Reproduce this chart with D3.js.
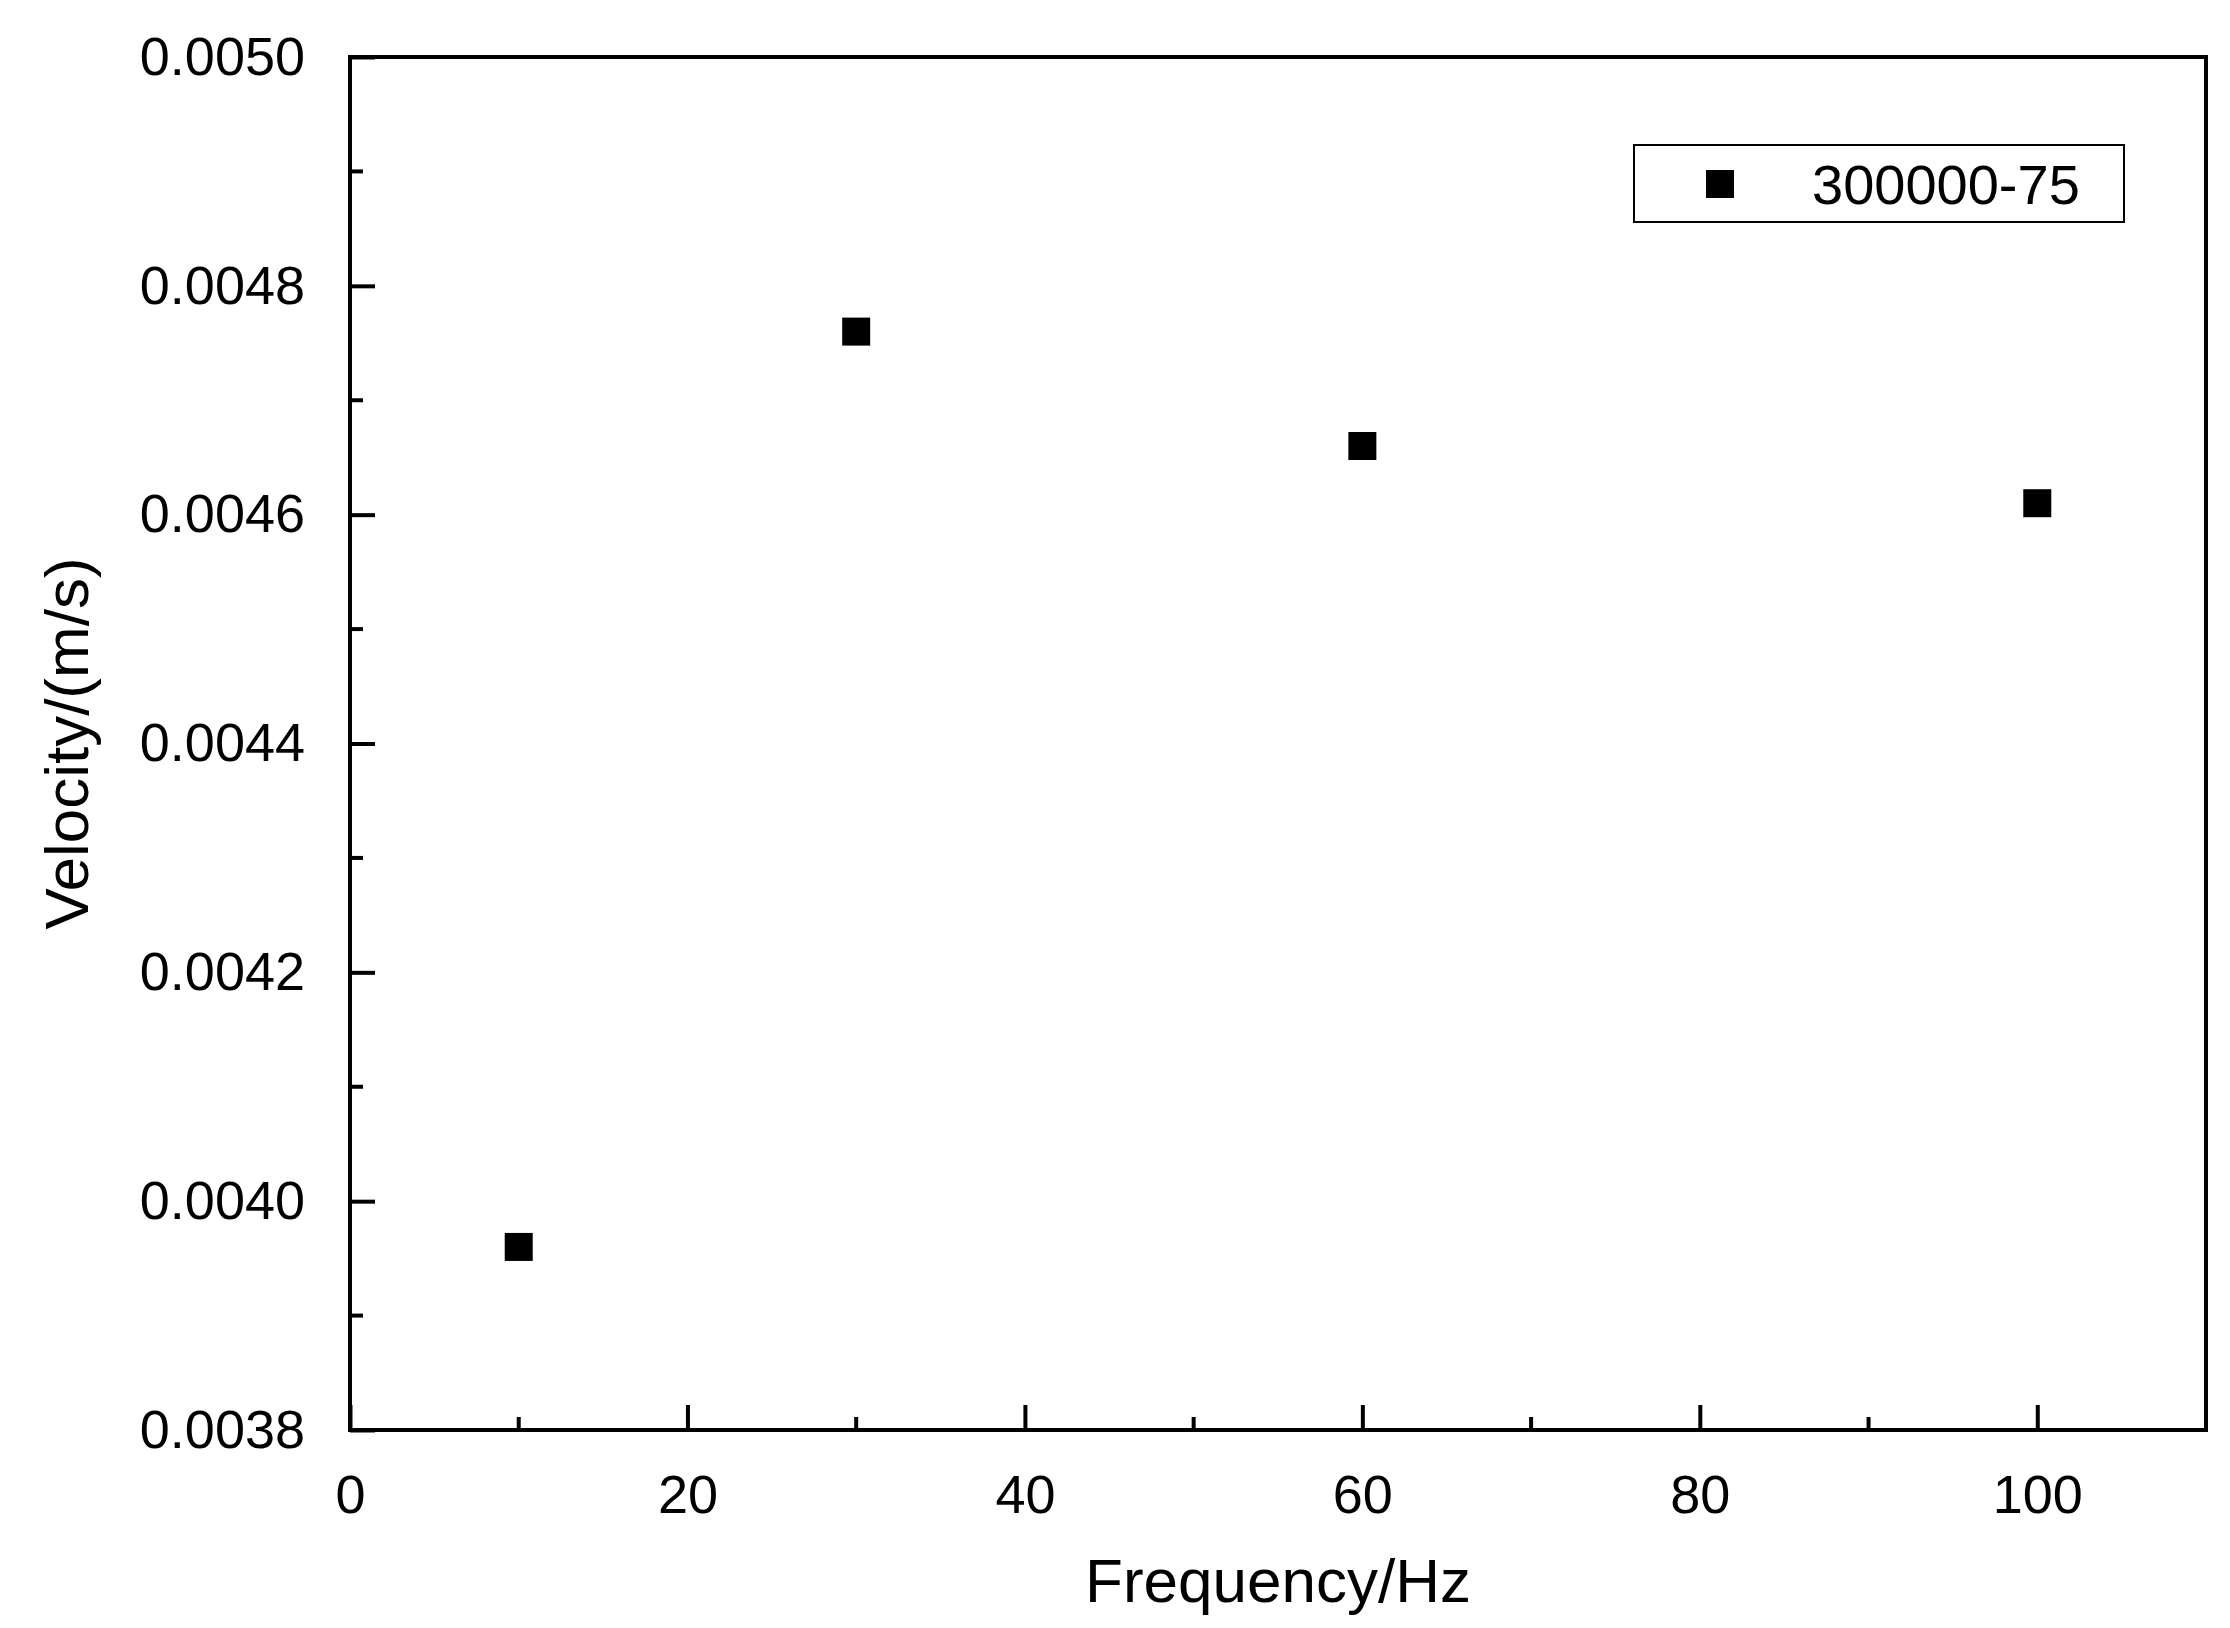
<!DOCTYPE html>
<html>
<head>
<meta charset="utf-8">
<script src="https://d3js.org/d3.v7.min.js"></script>
<style>body{margin:0;background:#fff}</style>
</head>
<body>
<script>
const freq = [10, 30, 60, 100];
const velocity = [0.00396, 0.00476, 0.00466, 0.00461];
const seriesName = "300000-75";
const xTicks = [0, 20, 40, 60, 80, 100];
const yTicks = [0.0038, 0.0040, 0.0042, 0.0044, 0.0046, 0.0048, 0.0050];

const width = 2230, height = 1628;
const mLeft = 350, mRight = 2206, mTop = 57, mBottom = 1430;
const font = "Arial, 'Liberation Sans', sans-serif";

const svg = d3.select("body").append("svg").attr("width", width).attr("height", height);
const x = d3.scaleLinear().domain([0, 110]).range([mLeft, mRight]);
const y = d3.scaleLinear().domain([0.0038, 0.0050]).range([mBottom, mTop]);

// minor ticks
const xMinor = d3.range(10, 110, 20);
const yMinor = d3.range(0.0039, 0.0050, 0.0002);
svg.selectAll(".xm").data(xMinor).enter().append("line")
  .attr("x1", d => x(d)).attr("x2", d => x(d)).attr("y1", mBottom).attr("y2", mBottom - 13)
  .attr("stroke", "#000").attr("stroke-width", 4);
svg.selectAll(".ym").data(yMinor).enter().append("line")
  .attr("y1", d => y(d)).attr("y2", d => y(d)).attr("x1", mLeft).attr("x2", mLeft + 13)
  .attr("stroke", "#000").attr("stroke-width", 4);

const xAxis = svg.append("g").attr("transform", `translate(0,${mBottom})`)
  .call(d3.axisBottom(x).tickValues(xTicks).tickSize(-25).tickPadding(45).tickFormat(d3.format("d")));
const yAxis = svg.append("g").attr("transform", `translate(${mLeft},0)`)
  .call(d3.axisLeft(y).tickValues(yTicks).tickSize(-25).tickPadding(45).tickFormat(d3.format(".4f")));
[xAxis, yAxis].forEach(g => {
  g.select(".domain").remove();
  g.selectAll("line").attr("stroke-width", 4);
  g.selectAll("text").style("font-family", font).style("font-size", "54px").attr("fill", "#000");
});
xAxis.selectAll("text").attr("dy", "0.71em");

svg.append("rect").attr("x", mLeft).attr("y", mTop).attr("width", mRight - mLeft).attr("height", mBottom - mTop)
  .attr("fill", "none").attr("stroke", "#000").attr("stroke-width", 4);

const s = 28;
svg.selectAll(".pt").data(freq).enter().append("rect")
  .attr("x", (d) => x(d) - s / 2).attr("y", (d, i) => y(velocity[i]) - s / 2)
  .attr("width", s).attr("height", s).attr("fill", "#000");

// legend
svg.append("rect").attr("x", 1634).attr("y", 145).attr("width", 490).attr("height", 77)
  .attr("fill", "#fff").attr("stroke", "#000").attr("stroke-width", 2);
svg.append("rect").attr("x", 1706).attr("y", 170).attr("width", s).attr("height", s).attr("fill", "#000");
svg.append("text").attr("x", 1812).attr("y", 204).text(seriesName)
  .style("font-family", font).style("font-size", "56px");

svg.append("text").attr("x", (mLeft + mRight) / 2).attr("y", 1602).attr("text-anchor", "middle")
  .text("Frequency/Hz").style("font-family", font).style("font-size", "62px");
svg.append("text").attr("transform", `translate(88,${(mTop + mBottom) / 2}) rotate(-90)`)
  .attr("text-anchor", "middle").text("Velocity/(m/s)")
  .style("font-family", font).style("font-size", "62px");
</script>
</body>
</html>
